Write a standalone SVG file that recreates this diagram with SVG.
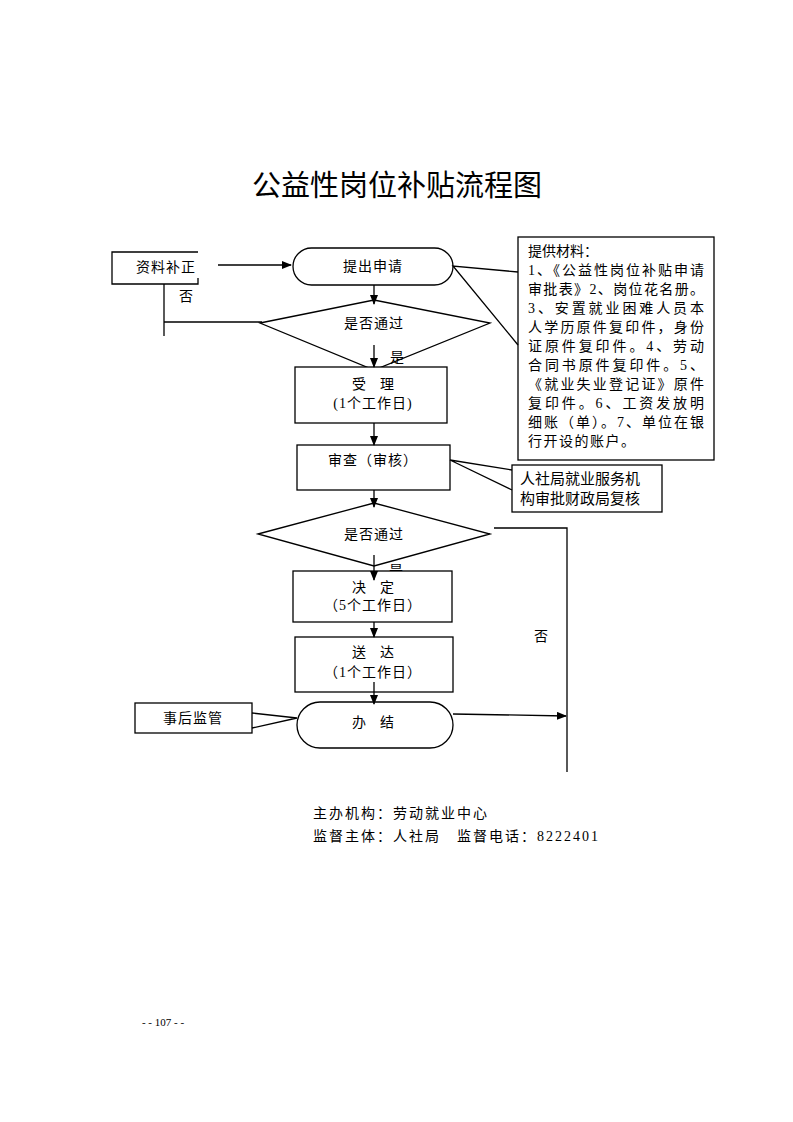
<svg xmlns="http://www.w3.org/2000/svg" width="793" height="1122" viewBox="0 0 793 1122">
<style>
.s{fill:#fff;stroke:#000;stroke-width:1.3}
.l{fill:none;stroke:#000;stroke-width:1.3}
text{font-family:"Liberation Serif","Noto Sans CJK SC",serif;font-size:14px;fill:#000}
.c{text-anchor:middle}
</style>
<defs><marker id="a" markerWidth="10" markerHeight="8" refX="9" refY="4" orient="auto" markerUnits="userSpaceOnUse"><path d="M0,0L10,4L0,8z" fill="#000"/></marker></defs>
<rect width="793" height="1122" fill="#fff"/>
<text x="397" y="196" class="c" style="font-family:'Noto Sans CJK SC',sans-serif;font-size:29px">公益性岗位补贴流程图</text>
<g id="buzheng"><polyline class="l" points="198,252 112,252 112,284 198,284 198,278"/><text x="166" y="272" class="c" letter-spacing="1">资料补正</text></g>
<text x="186" y="301" class="c">否</text>
<g id="shenqing"><rect class="s" x="293" y="248" width="160" height="37" rx="18.5"/><text x="373" y="271" class="c" letter-spacing="1">提出申请</text></g>
<g id="d1"><polygon class="s" points="260,323 374,300 490,323 374,370"/><text x="374" y="328" class="c" letter-spacing="1">是否通过</text></g>
<text x="397" y="362" class="c">是</text>
<g id="shouli"><rect class="s" x="295" y="367" width="152" height="56"/><text x="373" y="389" class="c">受　理</text><text x="373" y="408" class="c" letter-spacing="1">(1个工作日)</text></g>
<g id="shencha"><rect class="s" x="297" y="445" width="153" height="45"/><text x="373" y="465" class="c" letter-spacing="1">审查（审核）</text></g>
<g id="cailiao"><rect class="s" x="518" y="237" width="196" height="223"/>
<text x="528" y="256">提供材料：</text>
<text x="528" y="275" textLength="176">1、《公益性岗位补贴申请</text>
<text x="528" y="294" textLength="176">审批表》2、岗位花名册。</text>
<text x="528" y="313" textLength="176">3、安置就业困难人员本</text>
<text x="528" y="332" textLength="176">人学历原件复印件，身份</text>
<text x="528" y="351" textLength="176">证原件复印件。4、劳动</text>
<text x="528" y="370" textLength="176">合同书原件复印件。5、</text>
<text x="528" y="389" textLength="176">《就业失业登记证》原件</text>
<text x="528" y="408" textLength="176">复印件。6、工资发放明</text>
<text x="528" y="427" textLength="176">细账（单）。7、单位在银</text>
<text x="528" y="446" letter-spacing="1.5">行开设的账户。</text></g>
<g id="fuhe"><rect class="s" x="512" y="465" width="150" height="47"/><text x="520" y="484" style="font-size:15px">人社局就业服务机</text><text x="520" y="504" style="font-size:15px">构审批财政局复核</text></g>
<text x="396" y="575" class="c">是</text>
<g id="d2"><polygon class="s" points="258,534 374,503 490,534 374,566"/><text x="374" y="539" class="c" letter-spacing="1">是否通过</text></g>
<g id="jueding"><rect class="s" x="293" y="571" width="159" height="51"/><text x="373" y="592" class="c">决　定</text><text x="373" y="610" class="c" letter-spacing="1">（5个工作日）</text></g>
<text x="541" y="641" class="c">否</text>
<g id="songda"><rect class="s" x="295" y="637" width="158" height="55"/><text x="373" y="657" class="c">送　达</text><text x="373" y="677" class="c" letter-spacing="1">（1个工作日）</text></g>
<g id="banjie"><rect class="s" x="297" y="702" width="156" height="46" rx="23"/><text x="373" y="727" class="c">办　结</text></g>
<g id="jianguan"><rect class="s" x="135" y="703" width="117" height="30"/><text x="193" y="723" class="c" letter-spacing="1">事后监管</text></g>
<g id="conn">
<line class="l" x1="218" y1="265" x2="291" y2="265" marker-end="url(#a)"/>
<polyline class="l" points="164,284 164,336"/>
<line class="l" x1="164" y1="322" x2="262" y2="322"/>
<line class="l" x1="374" y1="285" x2="374" y2="304" marker-end="url(#a)"/>
<line class="l" x1="374" y1="345" x2="374" y2="367" marker-end="url(#a)"/>
<line class="l" x1="374" y1="423" x2="374" y2="445" marker-end="url(#a)"/>
<line class="l" x1="374" y1="490" x2="374" y2="507" marker-end="url(#a)"/>
<line class="l" x1="374" y1="555" x2="374" y2="580" marker-end="url(#a)"/>
<line class="l" x1="374" y1="622" x2="374" y2="637" marker-end="url(#a)"/>
<line class="l" x1="374" y1="682" x2="374" y2="704" marker-end="url(#a)"/>
<polyline class="l" points="494,528 567,528 567,772"/>
<line class="l" x1="453" y1="714" x2="566" y2="716" marker-end="url(#a)"/>
<polyline class="l" points="518,272 453,266 518,345"/>
<polyline class="l" points="512,470 450,460 512,490"/>
<polyline class="l" points="252,713 297,718 252,728"/>
</g>
<text x="313" y="818" letter-spacing="2">主办机构：劳动就业中心</text>
<text x="313" y="841" letter-spacing="2">监督主体：人社局　监督电话：8222401</text>
<text x="163" y="1026" class="c" style="font-size:11px">- - 107 - -</text>
</svg>
